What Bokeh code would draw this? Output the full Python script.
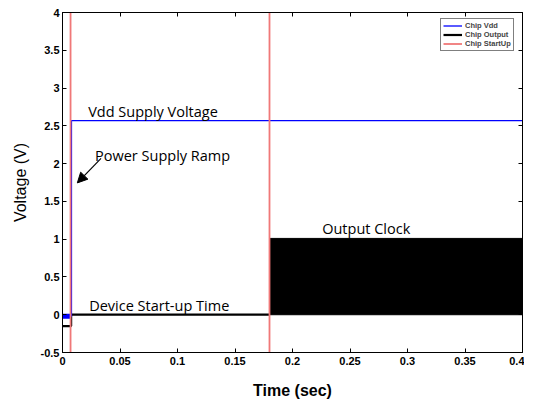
from bokeh.plotting import figure
from bokeh.models import (Range1d, FixedTicker, LinearAxis, Label, Arrow,
                          NormalHead, Legend, LegendItem)
from bokeh.embed import file_html
from bokeh.resources import INLINE

# ---- data ----
vdd_t = [0.0, 0.0078, 0.0078, 0.4]
vdd_v = [-0.02, -0.02, 2.57, 2.57]
vdd_noise_t = [0.0, 0.0075]
vdd_noise_v = [-0.02, -0.02]
out_t = [0.0, 0.0075, 0.0075, 0.18]
out_v = [-0.15, -0.15, 0.0, 0.0]
clock_start = [0.18]
clock_end = [0.4]
clock_low = [0.0]
clock_high = [1.01]
startup_t = [0.007, 0.18]
y_ticks = [-0.5, 0, 0.5, 1, 1.5, 2, 2.5, 3, 3.5, 4]
y_labels = ["-0.5", "0", "0.5", "1", "1.5", "2", "2.5", "3", "3.5", "4"]
x_ticks = [0, 0.05, 0.1, 0.15, 0.2, 0.25, 0.3, 0.35, 0.4]
x_labels = ["0", "0.05", "0.1", "0.15", "0.2", "0.25", "0.3", "0.35", "0.4"]

FONT = "Liberation Sans"
ANN = "Open Sans"

FW, FH = 460, 340
p = figure(frame_width=FW, frame_height=FH, output_backend="svg",
           toolbar_location=None, x_range=Range1d(0, 0.4),
           y_range=Range1d(-0.5, 4),
           min_border_left=62, min_border_top=12, min_border_bottom=52,
           min_border_right=2)
p.grid.visible = False
p.outline_line_color = "black"
p.outline_line_width = 1

def style_axis(ax, show_labels=True):
    ax.major_tick_in = 4
    ax.major_tick_out = 0
    ax.minor_tick_in = 0
    ax.minor_tick_out = 0
    ax.axis_line_color = "black"
    ax.major_tick_line_color = "black"
    ax.major_label_text_font = FONT
    ax.major_label_text_font_style = "bold"
    ax.major_label_text_font_size = "11px"
    ax.major_label_text_color = "black"
    if not show_labels:
        ax.major_label_text_color = None
        ax.major_label_standoff = 0

p.xaxis.ticker = FixedTicker(ticks=x_ticks)
p.xaxis.major_label_overrides = {t: l for t, l in zip(x_ticks, x_labels)}
p.yaxis.ticker = FixedTicker(ticks=y_ticks)
p.yaxis.major_label_overrides = {t: l for t, l in zip(y_ticks, y_labels)}
style_axis(p.xaxis[0])
style_axis(p.yaxis[0])
p.xaxis.axis_label = "Time (sec)"
p.xaxis.axis_label_text_font = FONT
p.xaxis.axis_label_text_font_style = "bold"
p.xaxis.axis_label_text_font_size = "16px"
p.xaxis.axis_label_text_color = "black"
p.xaxis.axis_label_standoff = 14
p.xaxis.major_label_standoff = 4
p.yaxis.axis_label = "Voltage (V)"
p.yaxis.axis_label_text_font = FONT
p.yaxis.axis_label_text_font_style = "normal"
p.yaxis.axis_label_text_font_size = "16px"
p.yaxis.axis_label_text_color = "black"
p.yaxis.axis_label_standoff = 9
p.yaxis.major_label_standoff = 3

top = LinearAxis(ticker=FixedTicker(ticks=x_ticks),
                 major_label_overrides={t: "" for t in x_ticks})
right = LinearAxis(ticker=FixedTicker(ticks=y_ticks),
                   major_label_overrides={t: "" for t in y_ticks})
style_axis(top, False)
style_axis(right, False)
p.add_layout(top, "above")
p.add_layout(right, "right")

# ---- glyphs ----
clk = p.quad(left=clock_start, right=clock_end, bottom=clock_low, top=clock_high,
             fill_color="black", line_color="black", line_width=1)
r_out = p.line(out_t, out_v, line_color="black", line_width=2.2)
r_vdd = p.line(vdd_t, vdd_v, line_color="#0000ff", line_width=1.3)
p.line(vdd_noise_t, vdd_noise_v, line_color="#0000ff", line_width=5)
r_st = p.segment(x0=startup_t, x1=startup_t, y0=[-0.5] * len(startup_t),
                 y1=[4] * len(startup_t), line_color="#f07878", line_width=1.8)

legend = Legend(items=[LegendItem(label="Chip Vdd", renderers=[r_vdd]),
                       LegendItem(label="Chip Output", renderers=[r_out]),
                       LegendItem(label="Chip StartUp", renderers=[r_st])],
                location=(FW - 2 - 80, FH - 13 - 26))
legend.label_text_font = FONT
legend.label_text_font_style = "bold"
legend.label_text_font_size = "7.5px"
legend.label_text_line_height = 1.0
legend.label_height = 7
legend.glyph_height = 7
legend.glyph_width = 19
legend.spacing = -2
legend.padding = 2
legend.margin = 0
legend.label_standoff = 3
legend.border_line_color = "black"
legend.border_line_width = 1
p.add_layout(legend)

# ---- annotations ----
def lab(x, y, t):
    p.add_layout(Label(x=x, y=y, text=t, text_font=ANN, text_font_size="14.5px",
                       text_baseline="alphabetic", text_color="black"))

lab(0.0223, 2.69, "Vdd Supply Voltage")
lab(0.0283, 2.11, "Power Supply Ramp")
lab(0.2258, 1.14, "Output Clock")
lab(0.0232, 0.118, "Device Start-up Time")
p.add_layout(Arrow(end=NormalHead(size=10, fill_color="black", line_color="black"),
                   x_start=0.0335, y_start=2.07, x_end=0.0129, y_end=1.745,
                   line_color="black", line_width=1.2))

open("out.html", "w").write(file_html(p, INLINE))
